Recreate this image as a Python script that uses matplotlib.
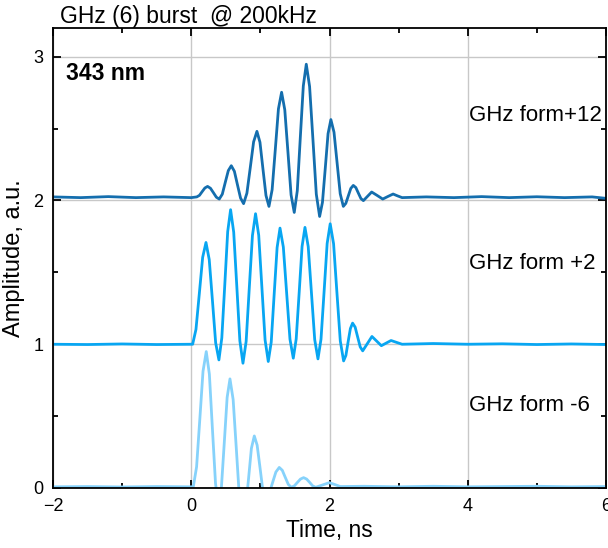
import matplotlib
matplotlib.use('Agg')
import matplotlib.pyplot as plt
from matplotlib.ticker import MultipleLocator

plt.rcParams['font.family'] = ['Liberation Sans', 'DejaVu Sans']

# GHz form +12 (offset by 2)
t_top = [-2.0, -1.6, -1.2, -0.8, -0.4, 0.0, 0.08,
         0.119, 0.158, 0.197, 0.236,
         0.278, 0.321, 0.363, 0.405,
         0.449, 0.492, 0.536, 0.579,
         0.624, 0.668, 0.713, 0.757,
         0.805, 0.854, 0.902, 0.950,
         0.994, 1.037, 1.081, 1.124,
         1.170, 1.216, 1.261, 1.307,
         1.353, 1.399, 1.444, 1.490,
         1.534, 1.577, 1.621, 1.664,
         1.712, 1.761, 1.809, 1.857,
         1.898, 1.939, 1.979, 2.020,
         2.065, 2.110, 2.155, 2.200,
         2.236, 2.272, 2.308, 2.344,
         2.381, 2.417, 2.454, 2.490,
         2.550, 2.610, 2.690, 2.770, 2.845, 2.920, 2.985, 3.050,
         3.4, 3.8, 4.2, 4.6, 5.0, 5.4, 5.8, 6.0]
y_top = [2.025, 2.02, 2.027, 2.02, 2.025, 2.02, 2.025,
         2.036, 2.062, 2.087, 2.098,
         2.085, 2.054, 2.023, 2.010,
         2.044, 2.126, 2.208, 2.242,
         2.203, 2.110, 2.017, 1.978,
         2.051, 2.230, 2.408, 2.481,
         2.405, 2.220, 2.035, 1.959,
         2.075, 2.356, 2.637, 2.753,
         2.631, 2.335, 2.039, 1.917,
         2.068, 2.433, 2.797, 2.948,
         2.793, 2.419, 2.044, 1.889,
         1.987, 2.226, 2.465, 2.563,
         2.475, 2.261, 2.047, 1.959,
         1.980, 2.032, 2.084, 2.105,
         2.090, 2.052, 2.014, 1.999,
         2.029, 2.059, 2.035, 2.010, 2.028, 2.045, 2.032, 2.020,
         2.025, 2.02, 2.027, 2.02, 2.026, 2.02, 2.025, 2.015]

# GHz form +2 (offset by 1)
t_mid = [-2.0, -1.5, -1.0, -0.5, 0.0, 0.02,
         0.068, 0.117, 0.165, 0.213,
         0.260, 0.307, 0.353, 0.400,
         0.442, 0.485, 0.527, 0.569,
         0.614, 0.659, 0.703, 0.748,
         0.794, 0.839, 0.885, 0.930,
         0.976, 1.022, 1.068, 1.114,
         1.157, 1.199, 1.242, 1.284,
         1.332, 1.380, 1.428, 1.476,
         1.518, 1.561, 1.603, 1.645,
         1.692, 1.739, 1.786, 1.833,
         1.877, 1.922, 1.966, 2.010,
         2.059, 2.107, 2.156, 2.204,
         2.237, 2.269, 2.302, 2.334,
         2.371, 2.407, 2.444, 2.480,
         2.547, 2.614, 2.682, 2.750, 2.820, 2.890, 2.970, 3.050,
         3.5, 4.0, 4.5, 5.0, 5.5, 6.0]
y_mid = [1.0, 0.998, 1.002, 0.998, 1.0, 1.0,
         1.103, 1.354, 1.605, 1.708,
         1.589, 1.300, 1.010, 0.891,
         1.044, 1.414, 1.783, 1.936,
         1.780, 1.402, 1.024, 0.868,
         1.020, 1.388, 1.756, 1.908,
         1.758, 1.394, 1.030, 0.880,
         1.015, 1.344, 1.673, 1.808,
         1.676, 1.356, 1.035, 0.903,
         1.036, 1.358, 1.680, 1.813,
         1.679, 1.356, 1.032, 0.898,
         1.035, 1.368, 1.701, 1.838,
         1.699, 1.361, 1.023, 0.884,
         0.922, 1.016, 1.109, 1.147,
         1.119, 1.051, 0.982, 0.954,
         1.004, 1.054, 1.022, 0.990, 1.008, 1.026, 1.013, 1.0,
         1.005, 1.0, 1.003, 0.998, 1.002, 0.998]

# GHz form -6 (no offset)
t_bot = [-2.0, -1.5, -1.0, -0.5, 0.0, 0.03,
         0.077, 0.124, 0.170, 0.217,
         0.262, 0.306, 0.351, 0.395,
         0.436, 0.478, 0.519, 0.560,
         0.606, 0.653, 0.699, 0.745,
         0.787, 0.829, 0.870, 0.912,
         0.953, 0.994, 1.034, 1.075,
         1.125, 1.174, 1.224, 1.273,
         1.317, 1.360, 1.404, 1.447,
         1.492, 1.536, 1.580, 1.625,
         1.669, 1.713, 1.756, 1.800,
         1.899, 1.997, 2.077, 2.156,
         2.5, 3.0, 3.5, 4.0, 4.5, 5.0, 5.5, 6.0]
y_bot = [0.008, 0.01, 0.007, 0.01, 0.008, 0.01,
         0.147, 0.480, 0.812, 0.949,
         0.792, 0.412, 0.031, -0.126,
         0.003, 0.317, 0.630, 0.759,
         0.615, 0.265, -0.086, -0.230,
         -0.144, 0.066, 0.276, 0.362,
         0.298, 0.144, -0.011, -0.075,
         -0.043, 0.034, 0.111, 0.143,
         0.123, 0.074, 0.025, 0.005,
         0.015, 0.039, 0.062, 0.072,
         0.062, 0.039, 0.015, 0.005,
         0.021, 0.037, 0.024, 0.010,
         0.012, 0.008, 0.012, 0.008, 0.01, 0.012, 0.008, 0.01]

labels = ['GHz form+12', 'GHz form +2', 'GHz form -6']
label_y = [2.55, 1.525, 0.535]
colors = ['#146eae', '#08a6f2', '#86d2fb']

fig = plt.figure(figsize=(6.08, 5.48), dpi=100)
ax = fig.add_axes([0.0872, 0.1095, 0.9095, 0.8394])

ax.grid(True, color='#c8c8c8', linewidth=1.0)
ax.set_axisbelow(True)

ax.plot(t_top, y_top, color=colors[0], linewidth=2.0)
ax.plot(t_mid, y_mid, color=colors[1], linewidth=2.0)
ax.plot(t_bot, y_bot, color=colors[2], linewidth=2.0)

for lab, ly in zip(labels, label_y):
    ax.text(4.02, ly, lab, fontsize=16, va='baseline', ha='left')

ax.text(0.0235, 0.887, '343 nm', transform=ax.transAxes, fontsize=16.5,
        fontweight='bold', va='baseline')
fig.text(60 / 608, 1 - 23 / 548, 'GHz (6) burst  @ 200kHz', fontsize=16.5,
         va='baseline', ha='left')

ax.set_xlim(-2, 6)
ax.set_ylim(0, 3.2)
ax.xaxis.set_major_locator(MultipleLocator(2))
ax.xaxis.set_minor_locator(MultipleLocator(1))
ax.yaxis.set_major_locator(MultipleLocator(1))
ax.yaxis.set_minor_locator(MultipleLocator(0.5))
ax.tick_params(which='both', direction='in', top=True, right=True,
               width=1.3, labelsize=13, pad=7)
ax.tick_params(which='major', length=6)
ax.tick_params(which='minor', length=3.5)
for s in ax.spines.values():
    s.set_linewidth(1.3)

ax.set_xlabel('Time, ns', fontsize=16.5, labelpad=3)
ax.set_ylabel('Amplitude, a.u.', fontsize=17, labelpad=6)

fig.savefig('out.png', dpi=100)
